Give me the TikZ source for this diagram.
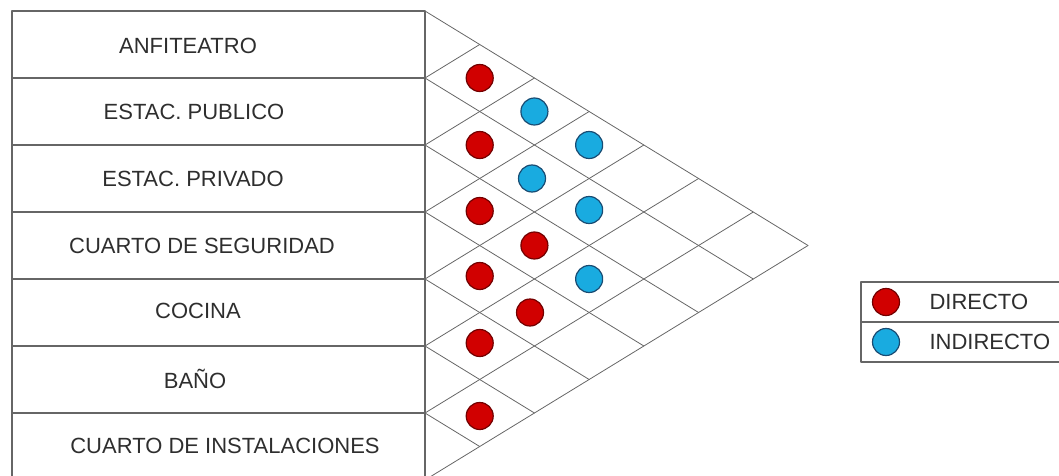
\documentclass[tikz,border=0pt]{standalone}
\usepackage{fontspec}
\setmainfont{Liberation Sans}
\definecolor{ccqqqq}{rgb}{0.82,0.,0.}
\definecolor{ssqqqq}{rgb}{0.45,0.,0.}
\definecolor{qqaaee}{rgb}{0.1,0.67,0.88}
\definecolor{qqffss}{rgb}{0.1,0.3,0.45}
\definecolor{wwwwww}{rgb}{0.4,0.4,0.4}
\definecolor{tttttt}{rgb}{0.18,0.18,0.18}

\begin{document}
\begin{tikzpicture}[line cap=round,line join=round,x=1pt,y=1pt,
    room/.style={text=tttttt,font=\fontsize{22}{26}\selectfont},
    directo/.style={circle,draw=ssqqqq,fill=ccqqqq,line width=1.2pt,minimum size=27pt,inner sep=0pt},
    indirecto/.style={circle,draw=qqffss,fill=qqaaee,line width=1.2pt,minimum size=27pt,inner sep=0pt}]
        \useasboundingbox (0.,-476.) rectangle (1059.,0.);
        \clip (0.,-476.) rectangle (1059.,0.);
        % tabla de espacios
        \draw [line width=1.3pt,color=wwwwww] (12.,-11.) rectangle (425.,-480.);
        \draw [line width=1.3pt,color=wwwwww] (12.,-78.)-- (425.,-78.);
        \draw [line width=1.3pt,color=wwwwww] (12.,-145.)-- (425.,-145.);
        \draw [line width=1.3pt,color=wwwwww] (12.,-212.)-- (425.,-212.);
        \draw [line width=1.3pt,color=wwwwww] (12.,-279.)-- (425.,-279.);
        \draw [line width=1.3pt,color=wwwwww] (12.,-346.)-- (425.,-346.);
        \draw [line width=1.3pt,color=wwwwww] (12.,-413.)-- (425.,-413.);
        \node[room] (anfiteatro) at (188.,-46.) {ANFITEATRO};
        \node[room] (publico) at (194.,-112.) {ESTAC. PUBLICO};
        \node[room] (privado) at (193.,-179.) {ESTAC. PRIVADO};
        \node[room] (seguridad) at (202.,-245.5) {CUARTO DE SEGURIDAD};
        \node[room] (cocina) at (198.,-311.) {COCINA};
        \node[room] (bano) at (195.,-379.) {BAÑO};
        \node[room] (instalaciones) at (225.,-446.) {CUARTO DE INSTALACIONES};
        % matriz de relaciones
        \draw [line width=0.8pt,color=wwwwww] (425.,-11.)-- (808.,-245.5);
        \draw [line width=0.8pt,color=wwwwww] (425.,-78.)-- (753.29,-279.);
        \draw [line width=0.8pt,color=wwwwww] (425.,-145.)-- (698.57,-312.5);
        \draw [line width=0.8pt,color=wwwwww] (425.,-212.)-- (643.86,-346.);
        \draw [line width=0.8pt,color=wwwwww] (425.,-279.)-- (589.14,-379.5);
        \draw [line width=0.8pt,color=wwwwww] (425.,-346.)-- (534.43,-413.);
        \draw [line width=0.8pt,color=wwwwww] (425.,-413.)-- (479.71,-446.5);
        \draw [line width=0.8pt,color=wwwwww] (425.,-78.)-- (479.71,-44.5);
        \draw [line width=0.8pt,color=wwwwww] (425.,-145.)-- (534.43,-78.);
        \draw [line width=0.8pt,color=wwwwww] (425.,-212.)-- (589.14,-111.5);
        \draw [line width=0.8pt,color=wwwwww] (425.,-279.)-- (643.86,-145.);
        \draw [line width=0.8pt,color=wwwwww] (425.,-346.)-- (698.57,-178.5);
        \draw [line width=0.8pt,color=wwwwww] (425.,-413.)-- (753.29,-212.);
        \draw [line width=0.8pt,color=wwwwww] (425.,-480.)-- (808.,-245.5);
        \node[directo] (d01) at (479.71,-78.) {};
        \node[indirecto] (i02) at (534.43,-111.5) {};
        \node[directo] (d12) at (479.71,-145.) {};
        \node[indirecto] (i03) at (589.14,-145.) {};
        \node[indirecto] (i13) at (532.,-178.5) {};
        \node[directo] (d23) at (479.71,-211.) {};
        \node[indirecto] (i14) at (589.14,-210.) {};
        \node[directo] (d24) at (534.43,-245.5) {};
        \node[directo] (d34) at (479.71,-276.) {};
        \node[indirecto] (i25) at (589.14,-279.) {};
        \node[directo] (d35) at (530.,-312.5) {};
        \node[directo] (d45) at (479.71,-343.) {};
        \node[directo] (d56) at (479.71,-416.) {};
        % leyenda
        \draw [line width=1.3pt,color=wwwwww] (861.,-282.) rectangle (1070.,-362.);
        \draw [line width=1.3pt,color=wwwwww] (861.,-322.)-- (1070.,-322.);
        \node[directo] (ldirecto) at (886.,-302.) {};
        \node[indirecto] (lindirecto) at (886.,-342.) {};
        \node[room,anchor=west] (tdirecto) at (926.,-302.) {DIRECTO};
        \node[room,anchor=west] (tindirecto) at (926.,-342.) {INDIRECTO};
    \end{tikzpicture}
\end{document}
